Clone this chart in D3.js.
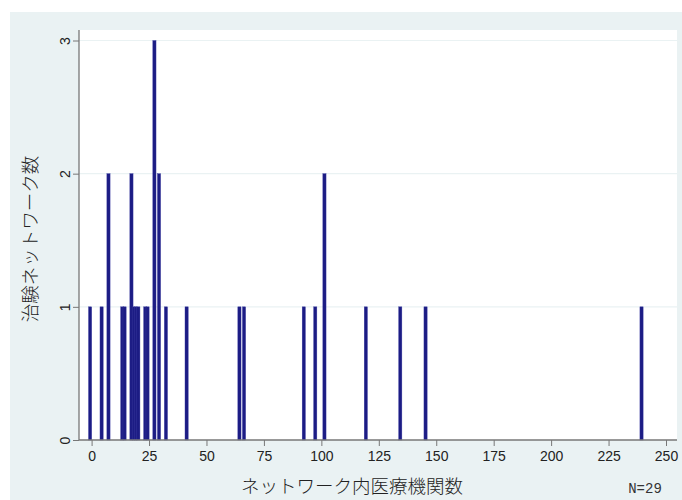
<!DOCTYPE html>
<html>
<head>
<meta charset="utf-8">
<script src="https://cdn.jsdelivr.net/npm/d3@7"></script>
<style>
  body { margin: 0; background: #fff; }
  svg { display: block; }
</style>
</head>
<body>
<div id="chart"></div>
<script>
// 医療機関数ごとのネットワーク数
const sites = [0, 5, 8, 14, 15, 18, 19, 20, 21, 24, 25, 28, 30, 33, 42, 65, 67, 93, 98, 102, 120, 135, 146, 240];
const counts = [1, 1, 2, 1, 1, 2, 1, 1, 1, 1, 1, 3, 2, 1, 1, 1, 1, 1, 1, 2, 1, 1, 1, 1];
const xTicks = [0, 25, 50, 75, 100, 125, 150, 175, 200, 225, 250];
const yTicks = [0, 1, 2, 3];
const xTitle = "ネットワーク内医療機関数";
const yTitle = "治験ネットワーク数";
const note = "N=29";

const W = 682, H = 500;
const data = sites.map((s, i) => ({ site: s, n: counts[i] }));

const svg = d3.select("#chart").append("svg")
    .attr("width", W)
    .attr("height", H);

// 外側の背景
svg.append("rect")
    .attr("x", 10).attr("y", 12)
    .attr("width", W - 10).attr("height", H - 12)
    .attr("fill", "#eaf2f3");

// プロット領域
const plot = { left: 79, right: 677, top: 30, bottom: 440 };
svg.append("rect")
    .attr("x", plot.left).attr("y", plot.top)
    .attr("width", plot.right - plot.left)
    .attr("height", plot.bottom - plot.top)
    .attr("fill", "#fff");

const x = d3.scaleLinear().domain([0, 250]).range([91.6, 666]);
const y = d3.scaleLinear().domain([0, 3]).range([440, 40.5]);

// グリッド線
svg.append("g")
    .selectAll("line")
    .data(yTicks.filter(d => d > 0))
    .enter().append("line")
    .attr("x1", plot.left).attr("x2", plot.right)
    .attr("y1", d => y(d)).attr("y2", d => y(d))
    .attr("stroke", "#eaf2f3")
    .attr("stroke-width", 1.2);

// 棒
svg.append("g")
    .selectAll("rect")
    .data(data)
    .enter().append("rect")
    .attr("x", d => x(d.site) - 3.1)
    .attr("width", 3.2)
    .attr("y", d => y(d.n))
    .attr("height", d => y(0) - y(d.n))
    .attr("fill", "#1c1c84")
    .attr("stroke", "#3c3ca0")
    .attr("stroke-width", 0.4);

// X軸
const xAxis = svg.append("g")
    .attr("transform", `translate(0,${plot.bottom})`)
    .call(d3.axisBottom(x).tickValues(xTicks).tickSize(6).tickPadding(5).tickSizeOuter(0));
xAxis.select(".domain").remove();
xAxis.append("line")
    .attr("x1", plot.left).attr("x2", plot.right)
    .attr("stroke", "#777").attr("stroke-width", 1.3);
xAxis.selectAll(".tick line").attr("stroke", "#777");
xAxis.selectAll(".tick text")
    .attr("fill", "#222")
    .style("font-family", "'Liberation Sans', Arial, sans-serif")
    .style("font-size", "14px");

// Y軸
const yAxis = svg.append("g")
    .attr("transform", `translate(${plot.left},0)`)
    .call(d3.axisLeft(y).tickValues(yTicks).tickFormat(d3.format("d")).tickSize(6).tickSizeOuter(0));
yAxis.select(".domain").remove();
yAxis.append("line")
    .attr("y1", plot.top).attr("y2", plot.bottom)
    .attr("stroke", "#777").attr("stroke-width", 1.3);
yAxis.selectAll(".tick line").attr("stroke", "#777");
yAxis.selectAll(".tick text")
    .attr("fill", "#222")
    .attr("x", 0).attr("dy", 0)
    .attr("text-anchor", "middle")
    .attr("transform", "translate(-9,0) rotate(-90)")
    .style("font-family", "'Liberation Sans', Arial, sans-serif")
    .style("font-size", "14px");

// 軸タイトル
svg.append("text")
    .attr("x", 352)
    .attr("y", 493)
    .attr("text-anchor", "middle")
    .attr("fill", "#222")
    .style("font-family", "'Noto Sans CJK JP', sans-serif")
    .style("font-weight", 300)
    .style("font-size", "18.5px")
    .text(xTitle);

svg.append("text")
    .attr("transform", `translate(37,239) rotate(-90)`)
    .attr("text-anchor", "middle")
    .attr("fill", "#222")
    .style("font-family", "'Noto Sans CJK JP', sans-serif")
    .style("font-weight", 300)
    .style("font-size", "18.5px")
    .text(yTitle);

// 注記
svg.append("text")
    .attr("x", 645)
    .attr("y", 493)
    .attr("text-anchor", "middle")
    .attr("fill", "#333")
    .style("font-family", "'Liberation Mono', monospace")
    .style("font-size", "14px")
    .text(note);
</script>
</body>
</html>
